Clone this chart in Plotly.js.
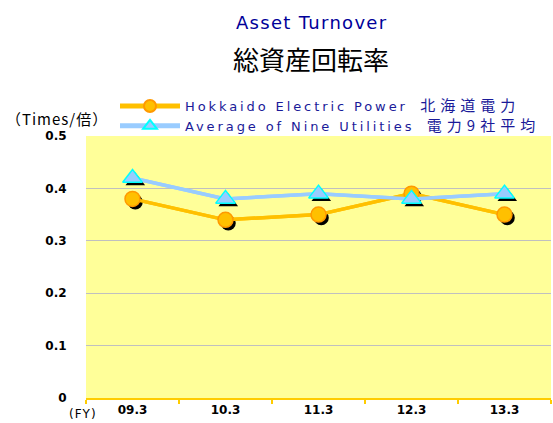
<!DOCTYPE html>
<html><head><meta charset="utf-8">
<script src="https://cdn.plot.ly/plotly-3.0.1.min.js"></script>
<style>html,body{margin:0;padding:0;background:#fff}#c{width:553px;height:423px}
.legendtext{letter-spacing:2.9px}</style>
</head><body><div id="c"></div>
<script>
const categories = ['09.3','10.3','11.3','12.3','13.3'];
const hokkaido = [0.38, 0.34, 0.35, 0.39, 0.35];
const nineAvg  = [0.42, 0.38, 0.39, 0.38, 0.39];
const yTicks = [0, 0.1, 0.2, 0.3, 0.4, 0.5];
const yTickText = ['0','0.1','0.2','0.3','0.4','0.5'];
const seriesNames = ['Hokkaido Electric Power', 'Average of Nine Utilities'];
const seriesNamesJa = ['北海道電力', '電力9社平均'];

const F = '"DejaVu Sans", "Noto Sans CJK JP", sans-serif';
const JF = '"Noto Sans CJK JP", "DejaVu Sans", sans-serif';
const ORANGE = '#ffc000', BLUE = '#99ccff';

function legendName(en, ja){
  return en + '<span style="font-family:\'Noto Sans CJK JP\';font-size:15px;letter-spacing:5px">\u2002' + ja + '</span>';
}

const traces = [
  {x: categories, y: hokkaido, mode:'lines', showlegend:false, hoverinfo:'skip', line:{color:ORANGE, width:3.5}},
  {x: categories, y: nineAvg, mode:'lines', showlegend:false, hoverinfo:'skip', line:{color:BLUE, width:3.5}},
  {x: categories, y: hokkaido, xaxis:'x2', yaxis:'y2', mode:'markers', showlegend:false, hoverinfo:'skip',
   marker:{symbol:'circle', size:15, color:'#000'}},
  {x: categories, y: nineAvg, xaxis:'x2', yaxis:'y2', mode:'markers', showlegend:false, hoverinfo:'skip',
   marker:{symbol:'triangle-up', size:17, color:'#000'}},
  {x: categories, y: hokkaido, xaxis:'x3', yaxis:'y3', mode:'lines+markers',
   name: legendName(seriesNames[0], seriesNamesJa[0]),
   line:{color:ORANGE, width:3.5},
   marker:{symbol:'circle', size:15, color:ORANGE, line:{color:'#ff9900', width:1.5}}},
  {x: categories, y: nineAvg, xaxis:'x3', yaxis:'y3', mode:'lines+markers',
   name: legendName(seriesNames[1], seriesNamesJa[1]),
   line:{color:BLUE, width:3.5},
   marker:{symbol:'triangle-up', size:17, color:BLUE, line:{color:'#00ffff', width:1.5}}}
];

const plotH = 423-136-25, plotW = 553-86-2;
function px(xp){return (xp-86)/plotW;}
function py(yp){return (423-25-yp)/plotH;}

const layout = {
  width:553, height:423,
  margin:{l:86, r:2, t:136, b:25, autoexpand:false},
  paper_bgcolor:'#ffffff', plot_bgcolor:'#ffff99',
  showlegend:true,
  legend:{x:px(115), xanchor:'left', y:py(91), yanchor:'top', bgcolor:'rgba(0,0,0,0)', itemsizing:'constant',
          font:{family:F, size:13, color:'#1a1a99'}, tracegroupgap:0, itemwidth:60},
  xaxis:{type:'category', categoryarray:categories, range:[-0.5,4.5], showgrid:false,
         showline:true, linecolor:'#ffcc00', linewidth:2, ticks:'outside', ticklen:4, tickcolor:'#ffcc00', tickwidth:2,
         tickson:'boundaries', zeroline:false, tickangle:0, tickfont:{family:F, size:12, color:'#000', weight:'bold'}, fixedrange:true},
  yaxis:{range:[0,0.5], tickvals:yTicks, ticktext:yTickText, showgrid:true, gridcolor:'#c0c0c0', gridwidth:1.2,
         zeroline:false, showline:false, ticks:'outside', ticklen:16, tickcolor:'rgba(0,0,0,0)',
         tickfont:{family:F, size:12, color:'#000', weight:'bold'}, fixedrange:true},
  xaxis2:{type:'category', categoryarray:categories, range:[-0.53,4.47], overlaying:'x', visible:false},
  yaxis2:{range:[0.006,0.506], overlaying:'y', visible:false},
  xaxis3:{type:'category', categoryarray:categories, range:[-0.5,4.5], overlaying:'x', visible:false},
  yaxis3:{range:[0,0.5], overlaying:'y', visible:false},
  annotations:[
    {text:'<span style="letter-spacing:1.3px">Asset Turnover</span>', xref:'paper', yref:'paper', x:px(311), y:py(22), xanchor:'center', yanchor:'middle',
     showarrow:false, font:{family:F, size:18, color:'#000099'}},
    {text:'総資産回転率', xref:'paper', yref:'paper', x:px(311), y:py(58), xanchor:'center', yanchor:'middle',
     showarrow:false, font:{family:JF, size:26, color:'#000'}},
    {text:'<span style="letter-spacing:1px">（Times/倍）</span>', xref:'paper', yref:'paper', x:px(4), y:py(118), xanchor:'left', yanchor:'middle',
     showarrow:false, font:{family:JF, size:15, color:'#000'}},
    {text:'<span style="letter-spacing:1px">(FY)</span>', xref:'paper', yref:'paper', x:px(99), y:py(414), xanchor:'right', yanchor:'middle',
     showarrow:false, font:{family:F, size:12, color:'#000'}}
  ]
};
Plotly.newPlot('c', traces, layout, {displayModeBar:false, staticPlot:true});
</script></body></html>
